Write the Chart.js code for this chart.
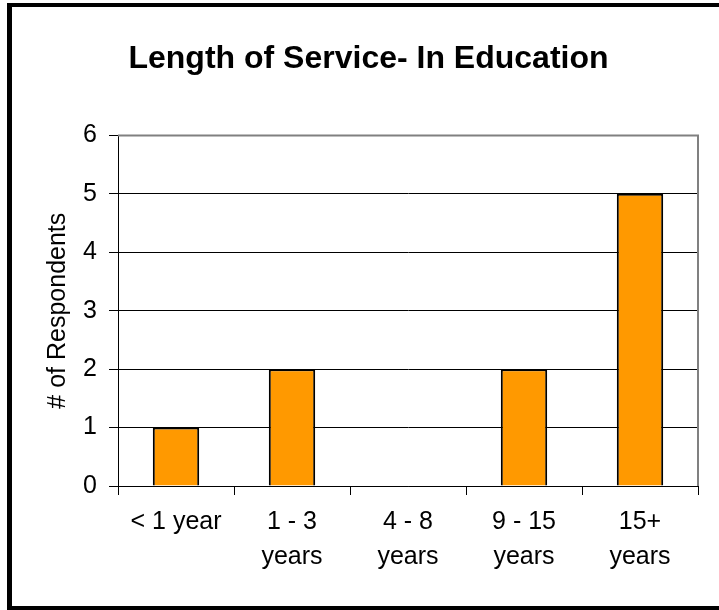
<html>
<head>
<style>
  body { margin: 0; background: #fff; }
  #wrap { width: 719px; height: 610px; }
</style>
</head>
<body>
<div id="wrap"><canvas id="myChart" width="719" height="610"></canvas></div>
<script src="https://cdn.jsdelivr.net/npm/chart.js@4.4.0/dist/chart.umd.min.js"></script>
<script>
  const labels = [['< 1 year'], ['1 - 3', 'years'], ['4 - 8', 'years'], ['9 - 15', 'years'], ['15+', 'years']];
  const respondents = [1, 2, 0, 2, 5];
  const yTicks = [0, 1, 2, 3, 4, 5, 6];

  const FONT = 'Liberation Sans, Arial, sans-serif';

  // the black frame around the picture (left, top, bottom; right side is cropped)
  const frame = {
    id: 'frame',
    beforeDraw: (chart) => {
      const ctx = chart.ctx;
      ctx.save();
      ctx.fillStyle = '#fff';
      ctx.fillRect(0, 0, chart.width, chart.height);
      ctx.fillStyle = '#000';
      ctx.fillRect(7, 3, 5, 607);
      ctx.fillRect(7, 3, 712, 4);
      ctx.fillRect(7, 606, 712, 4);
      ctx.restore();
    },
    afterDatasetsDraw: (chart) => {
      const a = chart.chartArea;
      const ctx = chart.ctx;
      ctx.save();
      ctx.strokeStyle = '#808080';
      ctx.lineWidth = 2;
      ctx.beginPath();
      ctx.moveTo(a.left, a.top);
      ctx.lineTo(a.right, a.top);
      ctx.lineTo(a.right, a.bottom);
      ctx.stroke();
      ctx.restore();
    }
  };

  new Chart(document.getElementById('myChart'), {
    type: 'bar',
    data: {
      labels: labels,
      datasets: [{
        data: respondents,
        backgroundColor: '#FF9900',
        borderColor: '#000',
        borderWidth: 2,
        categoryPercentage: 1,
        barPercentage: 0.4
      }]
    },
    options: {
      responsive: false,
      animation: false,
      layout: { padding: { left: 39, right: 21, top: 10, bottom: 0 } },
      plugins: {
        legend: { display: false },
        tooltip: { enabled: false },
        title: {
          display: true,
          text: 'Length of Service- In Education',
          color: '#000',
          font: { family: FONT, size: 32, weight: 'bold' },
          padding: { top: 30, bottom: 57 }
        }
      },
      scales: {
        x: {
          grid: { drawOnChartArea: false, offset: true, tickLength: 9, color: '#000' },
          border: { color: '#000', width: 1 },
          ticks: {
            color: '#000',
            font: { family: FONT, size: 25, lineHeight: 1.4 },
            padding: 10,
            maxRotation: 0,
            autoSkip: false
          },
          afterFit: (scale) => { scale.height = 610 - 486; }
        },
        y: {
          min: 0,
          max: 6,
          afterBuildTicks: (scale) => { scale.ticks = yTicks.map(v => ({ value: v })); },
          grid: { color: '#000', tickLength: 9 },
          border: { color: '#000', width: 1 },
          ticks: {
            color: '#000',
            font: { family: FONT, size: 25 },
            padding: 12
          },
          title: {
            display: true,
            text: '# of Respondents',
            color: '#000',
            font: { family: FONT, size: 25 },
            padding: { top: 4, bottom: 4 }
          },
          afterFit: (scale) => { scale.width = 118 - 39; }
        }
      }
    },
    plugins: [frame]
  });
</script>
</body>
</html>
